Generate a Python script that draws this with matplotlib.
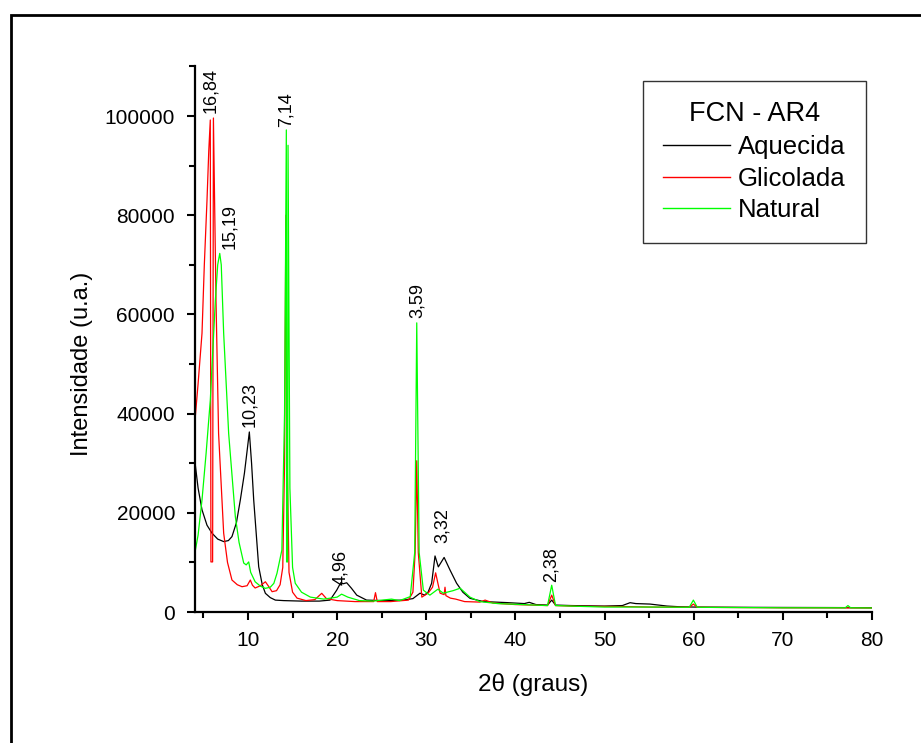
import matplotlib
matplotlib.use('Agg')
import matplotlib.pyplot as plt
from matplotlib.patches import Rectangle
from matplotlib.ticker import MultipleLocator

plt.rcParams['font.family'] = ['Liberation Sans', 'DejaVu Sans']

# Aquecida (black)
aq_x = [4.0, 4.4, 4.84, 5.4, 5.96, 6.6, 7.27, 7.8, 8.2, 8.7, 9.14, 9.6, 9.9, 10.15, 10.4,
        10.64, 11.2, 11.6, 11.95, 12.5, 13.07, 14, 15, 16, 17, 18, 19.2, 19.95, 20.4, 20.7,
        21.07, 21.6, 22.2, 23.3, 25, 27.4, 28.5, 29.3, 29.8, 30.2, 30.6, 30.98, 31.35, 32.0,
        32.66, 33.4, 34.1, 34.9, 36.4, 39, 41.0, 41.55, 42.3, 43.6, 44.07, 44.5, 46.3, 50,
        52.0, 52.86, 53.5, 55.1, 57.0, 58.5, 60, 65, 70, 75, 80]
aq_y = [31000, 25000, 20600, 17500, 15900, 14700, 14200, 14400, 15200, 18000, 22600, 28000,
        32500, 36300, 30000, 22600, 9130, 5500, 3770, 2900, 2400, 2300, 2250, 2200, 2200,
        2200, 2400, 4400, 5900, 5700, 5900, 4800, 3400, 2400, 2300, 2400, 2700, 3800, 3400,
        4000, 5800, 11300, 9100, 11000, 8470, 5800, 4000, 2760, 2100, 1900, 1700, 1950, 1500,
        1400, 2400, 1400, 1300, 1200, 1300, 1880, 1700, 1600, 1200, 1050, 1000, 950, 920,
        900, 870]

# Glicolada (red)
gl_x = [4.0, 4.4, 4.84, 5.1, 5.4, 5.6, 5.77, 5.84, 6.03, 6.12, 6.41, 6.7, 7.27, 7.7, 8.2,
        8.8, 9.33, 9.9, 10.26, 10.5, 10.8, 11.4, 11.95, 12.3, 12.7, 13.2, 13.6, 13.9, 14.1,
        14.25, 14.4, 14.6, 15.0, 15.5, 16.5, 17.5, 18.27, 18.8, 20, 22, 24.1, 24.3, 24.5, 26,
        28.0, 28.5, 28.75, 28.93, 29.1, 29.5, 30.2, 30.7, 31.05, 31.3, 31.55, 32.0, 32.1,
        32.2, 32.7, 33.3, 34.3, 36.0, 36.6, 37.5, 40, 43.6, 44.07, 44.5, 47, 52, 55, 59.5,
        59.96, 60.4, 65, 70, 75, 80]
gl_y = [37500, 46000, 56200, 70000, 83000, 93000, 99200, 10100, 10100, 99600, 62900, 36000,
        15900, 10000, 6450, 5500, 5100, 5300, 6450, 5400, 4840, 5300, 6100, 5200, 4100, 4300,
        5500, 9000, 30000, 80000, 30000, 8000, 4000, 2800, 2300, 2500, 3770, 2700, 2300, 2100,
        2100, 3900, 2100, 2100, 2400, 4000, 12000, 30500, 12000, 3000, 3800, 5000, 7900, 5800,
        3800, 3500, 5000, 3300, 2800, 2600, 2100, 2000, 2400, 1800, 1500, 1300, 3400, 1300,
        1150, 1100, 1000, 950, 1600, 950, 900, 850, 850, 820]

# Natural (green)
na_x = [4.0, 4.4, 4.84, 5.3, 5.77, 6.34, 6.6, 6.83, 7.0, 7.27, 7.83, 8.58, 9.0, 9.52, 9.8,
        10.08, 10.3, 10.8, 11.4, 11.95, 12.5, 12.9, 13.25, 13.8, 14.1, 14.3, 14.33, 14.45,
        14.49, 14.7, 15.0, 15.3, 16.0, 17, 18.5, 20, 20.5, 21.2, 22.5, 24, 26.1, 27, 28.2,
        28.7, 28.93, 29.2, 29.67, 30.4, 31.3, 31.9, 33.0, 33.8, 34.9, 36.0, 38, 43.6, 44.07,
        44.5, 47, 50, 55, 59.5, 59.96, 60.4, 65, 70, 77.0, 77.3, 77.6, 80]
na_y = [11500, 15500, 22600, 32000, 42700, 62900, 70000, 72300, 70000, 56200, 36000, 19200,
        14000, 9870, 9500, 10100, 8000, 6100, 5200, 4770, 5000, 5780, 7800, 12500, 40000,
        97200, 10100, 10100, 94100, 25000, 9000, 5800, 4000, 3000, 2600, 3000, 3600, 3000,
        2300, 2200, 2600, 2300, 3100, 12000, 58300, 12000, 4400, 3400, 4600, 3800, 4300, 4800,
        3000, 2100, 1700, 1300, 5400, 1300, 1150, 1000, 1000, 950, 2400, 950, 900, 850, 850,
        1300, 850, 820]

# peak labels (d-spacings)
peak_text = ['16,84', '15,19', '10,23', '7,14', '4,96', '3,59', '3,32', '2,38']
peak_x = [5.85, 7.98, 10.2, 14.27, 20.4, 28.95, 31.8, 44.0]
peak_y = [100600, 73200, 37300, 97800, 5400, 59300, 13900, 6000]

fig = plt.figure(figsize=(9.21, 7.43), dpi=100)
ax = fig.add_axes([0.2112, 0.1763, 0.7356, 0.7343])

ax.plot(aq_x, aq_y, color='black', lw=0.9, label='Aquecida')
ax.plot(gl_x, gl_y, color='#ff0000', lw=0.9, label='Glicolada')
ax.plot(na_x, na_y, color='#00ff00', lw=0.9, label='Natural')

for t, px, py in zip(peak_text, peak_x, peak_y):
    ax.text(px, py, t, rotation=90, ha='center', va='bottom', fontsize=13)

ax.set_xlim(4, 80)
ax.set_ylim(0, 110000)
ax.xaxis.set_major_locator(MultipleLocator(10))
ax.xaxis.set_minor_locator(MultipleLocator(5))
ax.yaxis.set_major_locator(MultipleLocator(20000))
ax.yaxis.set_minor_locator(MultipleLocator(10000))
for s in ['top', 'right']:
    ax.spines[s].set_visible(False)
for s in ['left', 'bottom']:
    ax.spines[s].set_linewidth(1.6)
ax.tick_params(which='major', direction='out', length=6, width=1.5, labelsize=15, pad=8)
ax.tick_params(which='minor', direction='out', length=4, width=1.5)

ax.set_xlabel('2θ (graus)', fontsize=17.5)
ax.set_ylabel('Intensidade (u.a.)', fontsize=17)
ax.xaxis.set_label_coords(0.5, -0.112)
ax.yaxis.set_label_coords(-0.150, 0.454)

leg = ax.legend(title='FCN - AR4', loc='upper right', bbox_to_anchor=(0.991, 0.974),
                borderaxespad=0, fontsize=18.5, title_fontsize=19.5, fancybox=False,
                frameon=True, edgecolor='black', handlelength=2.6, handletextpad=0.3,
                borderpad=0.8, labelspacing=0.3)
leg.get_frame().set_linewidth(1.0)
for ln in leg.get_lines():
    ln.set_linewidth(1.0)

# outer frame (only top and left edges are inside the picture)
fig.patches.append(Rectangle((11 / 921, -0.1), 1.2, 1 - 15 / 743 + 0.1,
                             transform=fig.transFigure, fill=False,
                             edgecolor='black', linewidth=2))

fig.savefig('out.png', dpi=100)
